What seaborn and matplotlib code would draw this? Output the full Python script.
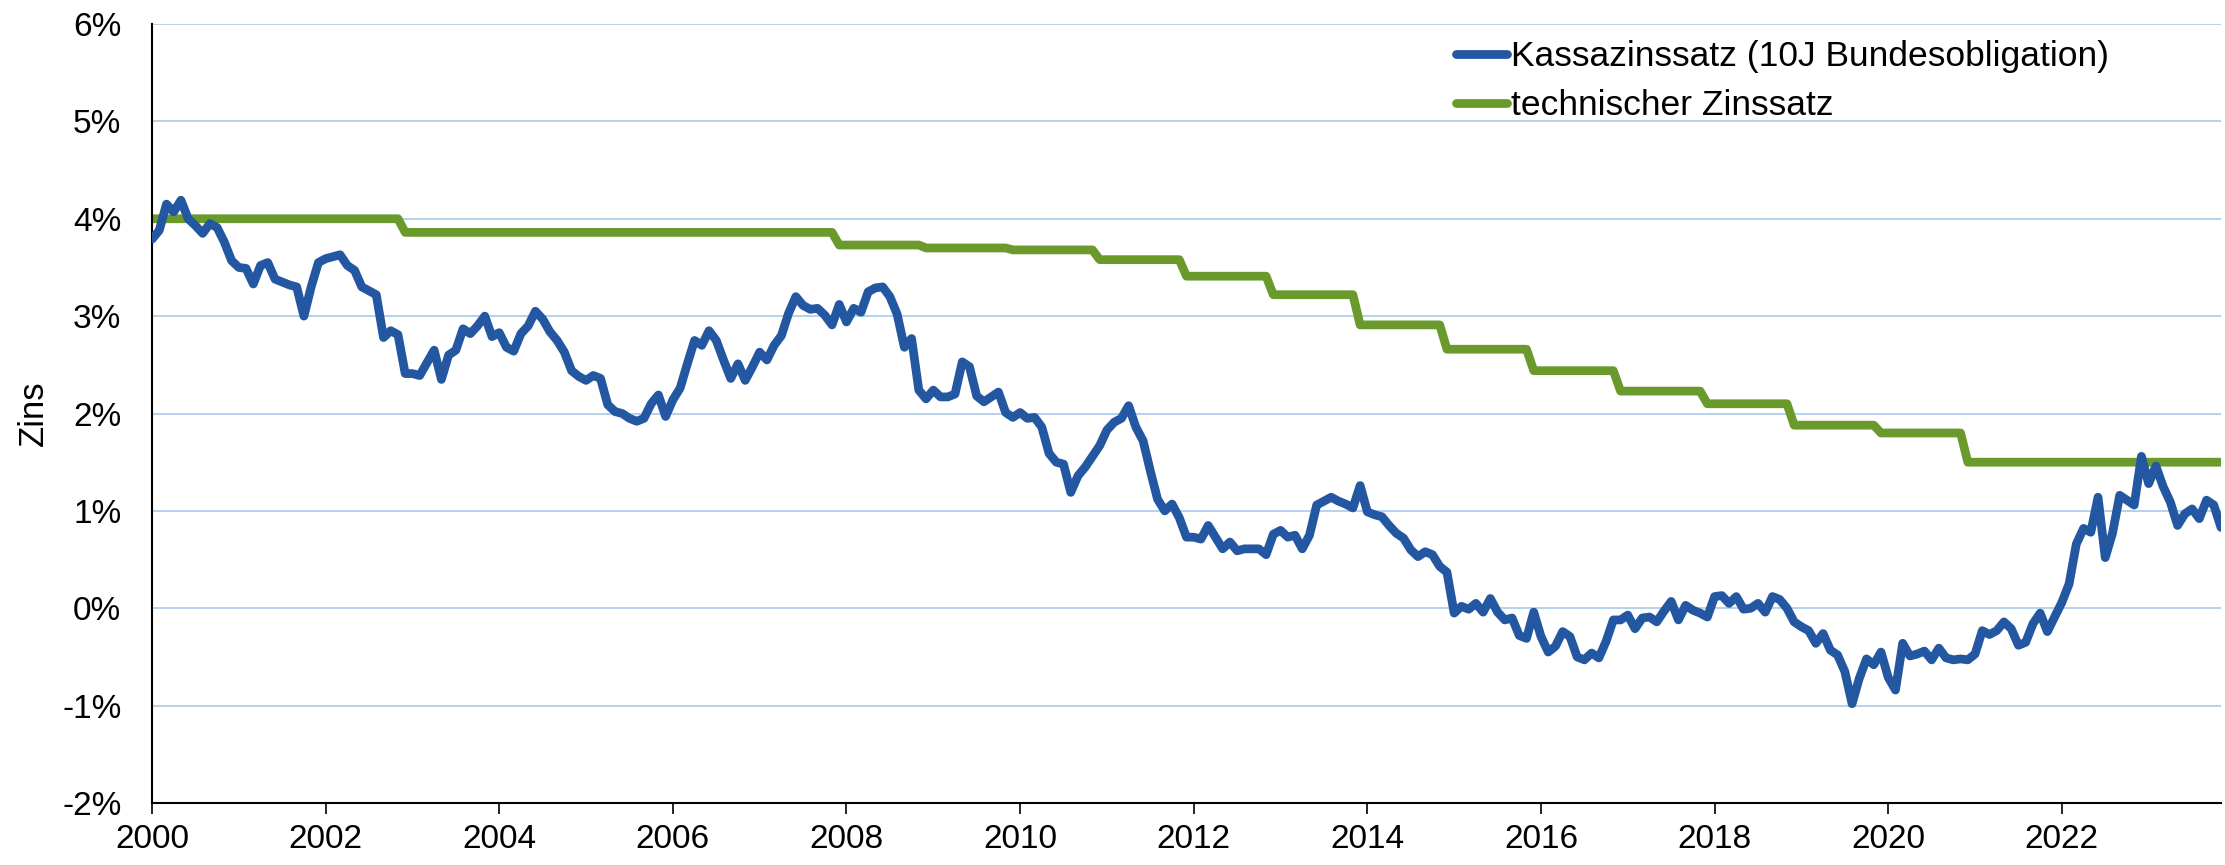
import numpy as np
import pandas as pd
import seaborn as sns
import matplotlib.pyplot as plt
from matplotlib.ticker import FuncFormatter


# Kassazinssatz 10J Bundesobligation, monatlich ab Jan 2000 (in %)
kassa_zins = [
    3.79, 3.88, 4.15, 4.07, 4.19, 4.00, 3.93, 3.85, 3.95, 3.91, 3.76, 3.57,   # 2000
    3.50, 3.49, 3.33, 3.52, 3.55, 3.38, 3.35, 3.32, 3.30, 3.00, 3.30, 3.55,   # 2001
    3.59, 3.61, 3.63, 3.52, 3.47, 3.30, 3.26, 3.22, 2.78, 2.85, 2.81, 2.41,   # 2002
    2.41, 2.39, 2.52, 2.65, 2.35, 2.60, 2.65, 2.87, 2.82, 2.90, 3.00, 2.79,   # 2003
    2.83, 2.68, 2.64, 2.82, 2.90, 3.05, 2.97, 2.84, 2.75, 2.63, 2.44, 2.38,   # 2004
    2.34, 2.39, 2.36, 2.09, 2.02, 2.00, 1.95, 1.92, 1.95, 2.10, 2.19, 1.97,   # 2005
    2.14, 2.26, 2.51, 2.75, 2.70, 2.85, 2.75, 2.55, 2.36, 2.51, 2.34, 2.48,   # 2006
    2.63, 2.55, 2.70, 2.80, 3.03, 3.20, 3.11, 3.07, 3.08, 3.01, 2.91, 3.12,   # 2007
    2.94, 3.08, 3.04, 3.25, 3.29, 3.30, 3.20, 3.02, 2.68, 2.77, 2.24, 2.15,   # 2008
    2.24, 2.17, 2.17, 2.20, 2.53, 2.48, 2.18, 2.12, 2.17, 2.22, 2.01, 1.96,   # 2009
    2.01, 1.95, 1.96, 1.86, 1.59, 1.50, 1.48, 1.19, 1.36, 1.45, 1.56, 1.67,   # 2010
    1.83, 1.91, 1.95, 2.08, 1.86, 1.72, 1.41, 1.12, 1.00, 1.07, 0.93, 0.73,   # 2011
    0.73, 0.71, 0.85, 0.73, 0.61, 0.68, 0.59, 0.61, 0.61, 0.61, 0.55, 0.76,   # 2012
    0.80, 0.73, 0.75, 0.61, 0.75, 1.06, 1.10, 1.14, 1.10, 1.07, 1.03, 1.26,   # 2013
    0.99, 0.96, 0.94, 0.85, 0.77, 0.72, 0.60, 0.53, 0.58, 0.55, 0.43, 0.37,   # 2014
    -0.05, 0.02, -0.01, 0.05, -0.04, 0.10, -0.04, -0.12, -0.10, -0.28, -0.31, -0.04,   # 2015
    -0.29, -0.45, -0.39, -0.24, -0.29, -0.50, -0.53, -0.46, -0.51, -0.34, -0.12, -0.12,  # 2016
    -0.07, -0.21, -0.10, -0.09, -0.14, -0.03, 0.07, -0.12, 0.03, -0.02, -0.05, -0.09,   # 2017
    0.12, 0.13, 0.05, 0.12, -0.01, 0.00, 0.05, -0.04, 0.12, 0.09, 0.00, -0.14,   # 2018
    -0.19, -0.23, -0.36, -0.26, -0.43, -0.48, -0.65, -0.98, -0.72, -0.52, -0.58, -0.45,  # 2019
    -0.71, -0.84, -0.36, -0.49, -0.47, -0.44, -0.53, -0.41, -0.51, -0.53, -0.52, -0.53,  # 2020
    -0.47, -0.23, -0.27, -0.23, -0.14, -0.21, -0.38, -0.35, -0.16, -0.05, -0.24, -0.09,  # 2021
    0.06, 0.25, 0.66, 0.82, 0.78, 1.14, 0.52, 0.77, 1.16, 1.11, 1.06, 1.56,   # 2022
    1.28, 1.46, 1.25, 1.09, 0.85, 0.97, 1.02, 0.92, 1.11, 1.06, 0.83,         # 2023
]

# technischer Zinssatz: gültig ab Monat
tech_start = ['2000-01', '2002-12', '2007-12', '2008-12', '2009-12', '2010-12',
              '2011-12', '2012-12', '2013-12', '2014-12', '2015-12', '2016-12',
              '2017-12', '2018-12', '2019-12', '2020-12']
tech_rate = [4.00, 3.86, 3.73, 3.70, 3.68, 3.58, 3.41, 3.22, 2.91, 2.66,
             2.44, 2.23, 2.10, 1.88, 1.80, 1.50]

tick_years = list(range(2000, 2023, 2))
y_ticks = list(range(-2, 7))

label_kassa = 'Kassazinssatz (10J Bundesobligation)'
label_tech = 'technischer Zinssatz'

# Daten aufbereiten
months = pd.period_range('2000-01', periods=len(kassa_zins), freq='M')
tech = pd.Series(tech_rate, index=pd.PeriodIndex(tech_start, freq='M')).reindex(months).ffill()
df = pd.DataFrame({
    'jahr': months.year + (months.month - 1) / 12,
    'kassa': kassa_zins,
    'tech': tech.values,
})

sns.set_style('white')
plt.rcParams['font.family'] = ['Liberation Sans', 'DejaVu Sans']
plt.rcParams['text.color'] = 'black'
plt.rcParams['axes.labelcolor'] = 'black'
plt.rcParams['xtick.color'] = 'black'
plt.rcParams['ytick.color'] = 'black'

fig = plt.figure(figsize=(22.25, 8.65), dpi=100)
ax = fig.add_axes([152 / 2225, 62 / 865, 2069 / 2225, 779 / 865])

sns.lineplot(data=df, x='jahr', y='tech', color='#6a9a2b', linewidth=6.3,
             label=label_tech, ax=ax, solid_capstyle='round', zorder=2)
sns.lineplot(data=df, x='jahr', y='kassa', color='#2457a1', linewidth=6.3,
             label=label_kassa, ax=ax, solid_capstyle='round', zorder=3)

ax.set_xlim(df['jahr'].iloc[0], df['jahr'].iloc[-1])
ax.set_ylim(-2, 6)
ax.set_xticks(tick_years)
ax.set_xticklabels([str(y) for y in tick_years])
ax.set_yticks(y_ticks)
ax.yaxis.set_major_formatter(FuncFormatter(lambda v, p: f'{int(v)}%'))

ax.grid(axis='y', color='#a8cbea', linewidth=1.2)
ax.grid(axis='x', visible=False)
ax.set_axisbelow(True)

for side in ['top', 'right']:
    ax.spines[side].set_visible(False)
for side in ['left', 'bottom']:
    ax.spines[side].set_color('black')
    ax.spines[side].set_linewidth(1.5)

ax.tick_params(axis='x', direction='out', length=8, width=1.2, color='black',
               labelsize=24, pad=7, bottom=True, labelcolor='black')
ax.tick_params(axis='y', length=0, labelsize=24, pad=22, labelcolor='black')

ax.set_xlabel('')
ax.set_ylabel('Zins', fontsize=25, color='black')
ax.yaxis.set_label_coords(-0.0493, 0.5)

handles, labels = ax.get_legend_handles_labels()
leg = ax.legend(handles[::-1], labels[::-1], loc='upper left',
                bbox_to_anchor=(1456 / 2225, 1 - 40 / 865), bbox_transform=fig.transFigure,
                frameon=False, fontsize=25.5, handlelength=1.43, handletextpad=0.12,
                labelspacing=0.45, borderpad=0, borderaxespad=0)
for t in leg.get_texts():
    t.set_color('black')

plt.savefig('out.png', dpi=100)
